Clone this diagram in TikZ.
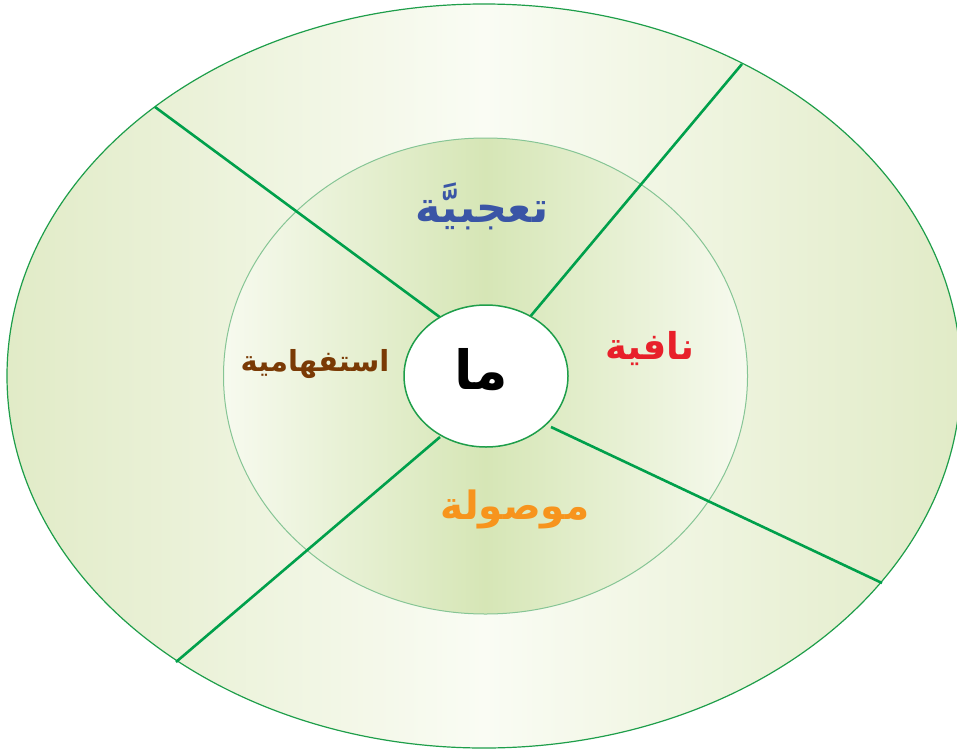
\documentclass[tikz,border=0pt]{standalone}
\usepackage{fontspec}
\newfontfamily\arabicfont[Script=Arabic]{DejaVu Sans}
\TeXXeTstate=1
\definecolor{ringgreen}{HTML}{E1EBC7}
\definecolor{ringlight}{HTML}{FAFCF4}
\definecolor{midgreen}{HTML}{D6E6B6}
\definecolor{midlight}{HTML}{F7FAEF}
\definecolor{edgegreen}{HTML}{1E9E4A}
\definecolor{midedge}{HTML}{86C595}
\definecolor{spokegreen}{HTML}{00A04B}
\definecolor{tblue}{HTML}{3A55A6}
\definecolor{tbrown}{HTML}{7A3A05}
\definecolor{tred}{HTML}{E8202A}
\definecolor{torange}{HTML}{F7941D}
\tikzset{
  spoke/.style={draw=spokegreen, line width=2.6pt},
  lab/.style={font=\arabicfont\bfseries, inner sep=0pt}
}
\begin{document}
\begin{tikzpicture}[x=1pt,y=-1pt]
\useasboundingbox (0,0) rectangle (957,752);
\clip (0,0) rectangle (957,752);
\fill[white] (0,0) rectangle (957,752);
% outer ellipse
\path[left color=ringgreen, right color=ringgreen, middle color=ringlight, draw=edgegreen, line width=1.2pt]
  (484,376) ellipse [x radius=477pt, y radius=372pt];
% middle ellipse
\path[left color=midlight, right color=midlight, middle color=midgreen, draw=midedge, line width=1pt]
  (485.5,376) ellipse [x radius=262pt, y radius=238pt];
% spoke endpoints
\coordinate (o1) at (155,107);
\coordinate (i1) at (441,318);
\coordinate (o2) at (742,64);
\coordinate (i2) at (529,318);
\coordinate (o3) at (882,583);
\coordinate (i3) at (551,427);
\coordinate (o4) at (176,662);
\coordinate (i4) at (440,437);
\draw[spoke] (o1) -- (i1);
\draw[spoke] (o2) -- (i2);
\draw[spoke] (o3) -- (i3);
\draw[spoke] (o4) -- (i4);
% inner ellipse
\path[fill=white, draw=edgegreen, line width=1.5pt]
  (486,376) ellipse [x radius=82pt, y radius=71pt];
% labels
\node[lab, text=black] (ma) at (481,370) {\fontsize{54}{56}\selectfont\beginR ما\endR};
\node[lab, text=tblue] (taj) at (482,206) {\fontsize{43}{45}\selectfont\beginR تعجبيَّة\endR};
\node[lab, text=tred] (naf) at (650,349) {\fontsize{37}{39}\selectfont\beginR نافية\endR};
\node[lab, text=tbrown] (ist) at (315,364) {\fontsize{29}{31}\selectfont\beginR استفهامية\endR};
\node[lab, text=torange] (maw) at (515,509) {\fontsize{39}{41}\selectfont\beginR موصولة\endR};
\end{tikzpicture}
\end{document}
